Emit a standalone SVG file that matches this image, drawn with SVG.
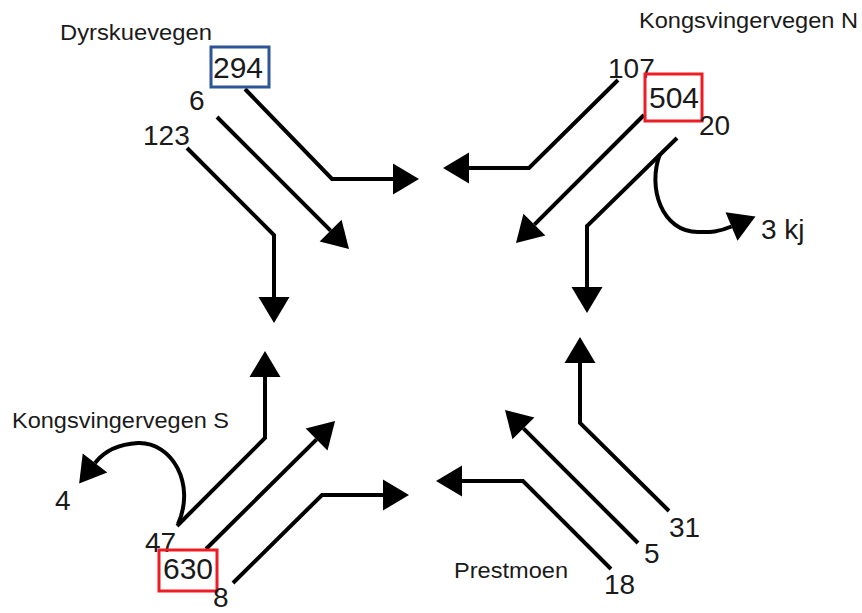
<svg xmlns="http://www.w3.org/2000/svg" width="862" height="613" viewBox="0 0 862 613">
  <style>
    .road { font-family: "Liberation Sans", Arial, sans-serif; font-size: 22px; fill: #1a1a1a; }
    .count { font-family: "Liberation Sans", Arial, sans-serif; font-size: 28px; fill: #1a1a1a; }
    .boxed { font-size: 30px; }
    .flow { fill: none; stroke: #000; stroke-width: 4; stroke-linejoin: miter; marker-end: url(#head); }
    .mark-blue { fill: none; stroke: #2e5597; stroke-width: 3; }
    .mark-red { fill: none; stroke: #ee1c24; stroke-width: 3; }
  </style>
  <defs>
    <marker id="head" markerUnits="userSpaceOnUse" markerWidth="28" markerHeight="32" refX="0" refY="15.5" orient="auto" overflow="visible">
      <path d="M0,0 L26,15.5 L0,31 Z" fill="#000"/>
    </marker>
  </defs>
  <rect width="862" height="613" fill="#fff"/>

  <!-- traffic movements -->
  <g id="connectors">
    <!-- from Dyrskuevegen -->
    <path class="flow" d="M245,89 L332,179 L393,179"/>
    <path class="flow" d="M217,117 L330.6,230.6"/>
    <path class="flow" d="M187,148 L274,235 L274,297"/>
    <!-- from Kongsvingervegen N -->
    <path class="flow" d="M618,80 L529,168 L469,168"/>
    <path class="flow" d="M644,115 L534.4,224.6"/>
    <path class="flow" d="M677,138 L587,226 L587,287"/>
    <path class="flow" d="M660,154 C647,188 662,232 698,232 C708,232 716,233 731.5,226.5"/>
    <!-- from Kongsvingervegen S -->
    <path class="flow" d="M177,526 L265,438 L265,377"/>
    <path class="flow" d="M206,549 L316.6,439.4"/>
    <path class="flow" d="M233,583 L322,495 L383,495"/>
    <path class="flow" d="M178,524 C196,484 172,442 138,443 C120,444 105,450 95,463"/>
    <!-- from Prestmoen -->
    <path class="flow" d="M669,511 L580,423 L580,363"/>
    <path class="flow" d="M638,543 L523.4,428.4"/>
    <path class="flow" d="M611,569 L523,481 L462,481"/>
  </g>

  <g id="dyrskuevegen">
    <text class="road" x="60" y="40" textLength="152" lengthAdjust="spacingAndGlyphs">Dyrskuevegen</text>
    <rect class="mark-blue" x="211" y="47" width="58" height="40"/>
    <text class="count boxed" x="213" y="78">294</text>
    <text class="count" x="189" y="110">6</text>
    <text class="count" x="143" y="145">123</text>
  </g>

  <g id="kongsvingervegen-n">
    <text class="road" x="639" y="28" textLength="219" lengthAdjust="spacingAndGlyphs">Kongsvingervegen N</text>
    <text class="count" x="608" y="78">107</text>
    <rect class="mark-red" x="645" y="74" width="57" height="47"/>
    <text class="count boxed" x="649" y="108">504</text>
    <text class="count" x="699" y="135">20</text>
    <text class="count" x="761" y="239">3 kj</text>
  </g>

  <g id="kongsvingervegen-s">
    <text class="road" x="12" y="428" textLength="217" lengthAdjust="spacingAndGlyphs">Kongsvingervegen S</text>
    <text class="count" x="55" y="510">4</text>
    <text class="count" x="145" y="552">47</text>
    <rect class="mark-red" x="159" y="550" width="58" height="41"/>
    <text class="count boxed" x="163" y="579">630</text>
    <text class="count" x="213" y="607">8</text>
  </g>

  <g id="prestmoen">
    <text class="road" x="454" y="578" textLength="114" lengthAdjust="spacingAndGlyphs">Prestmoen</text>
    <text class="count" x="669" y="537">31</text>
    <text class="count" x="644" y="563">5</text>
    <text class="count" x="604" y="594">18</text>
  </g>
</svg>
